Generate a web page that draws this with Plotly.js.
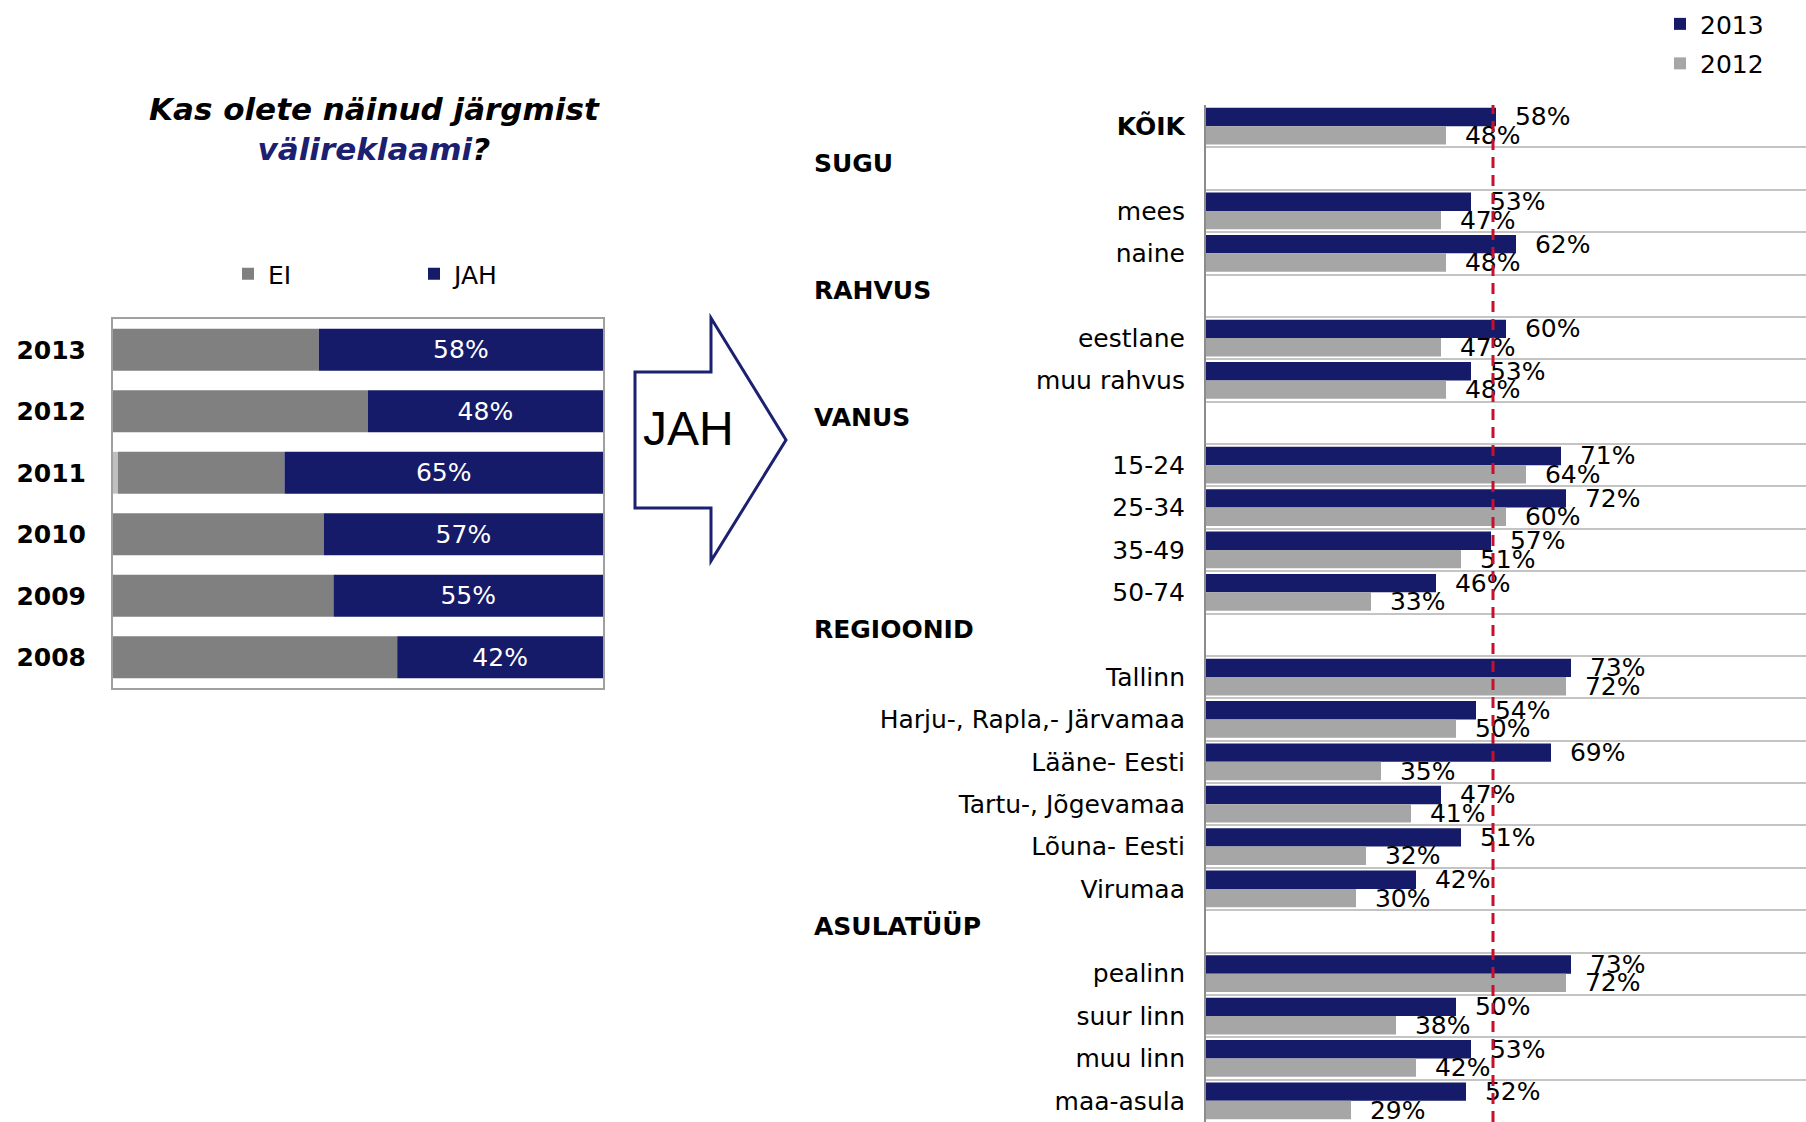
<!DOCTYPE html>
<html><head><meta charset="utf-8">
<script src="https://cdn.plot.ly/plotly-3.0.1.min.js"></script>
<style>html,body{margin:0;padding:0;background:#fff;}#chart{width:1806px;height:1122px;}</style>
</head><body><div id="chart"></div>
<script>
const W = 1806, H = 1122;

// ---- left chart data ----
const years = ['2013', '2012', '2011', '2010', '2009', '2008'];
const jahValues = [58, 48, 65, 57, 55, 42];
const eiValues = [42, 52, 34, 43, 45, 58];
const muuValues = [0, 0, 1, 0, 0, 0];

// ---- right chart data ----
const groups = ['KÕIK', 'SUGU', 'mees', 'naine', 'RAHVUS', 'eestlane', 'muu rahvus', 'VANUS',
  '15-24', '25-34', '35-49', '50-74', 'REGIOONID', 'Tallinn', 'Harju-, Rapla,- Järvamaa',
  'Lääne- Eesti', 'Tartu-, Jõgevamaa', 'Lõuna- Eesti', 'Virumaa', 'ASULATÜÜP',
  'pealinn', 'suur linn', 'muu linn', 'maa-asula'];
const values2013 = [58, null, 53, 62, null, 60, 53, null, 71, 72, 57, 46, null, 73, 54, 69, 47, 51, 42, null, 73, 50, 53, 52];
const values2012 = [48, null, 47, 48, null, 47, 48, null, 64, 60, 51, 33, null, 72, 50, 35, 41, 32, 30, null, 72, 38, 42, 29];
const headers = ['SUGU', 'RAHVUS', 'VANUS', 'REGIOONID', 'ASULATÜÜP'];
const boldGroups = ['KÕIK'];
const averageLine = 57.4;

const NAVY = '#151b69';
const GRAY = '#a6a6a6';
const DARKGRAY = '#808080';
const FONT = 'DejaVu Sans, Verdana, sans-serif';

const px = x => x / W;
const py = y => 1 - y / H;

const eiBase = muuValues.slice();
const jahBase = muuValues.map((m, i) => m + eiValues[i]);

const traces = [
  {type: 'bar', orientation: 'h', name: 'muu', x: muuValues, y: years, base: 0, width: 0.68,
   marker: {color: '#c0c0c0', line: {width: 0}}, showlegend: false, xaxis: 'x', yaxis: 'y', legend: 'legend'},
  {type: 'bar', orientation: 'h', name: 'EI', x: eiValues, y: years, base: eiBase, width: 0.68,
   marker: {color: DARKGRAY, line: {width: 0}}, xaxis: 'x', yaxis: 'y', legend: 'legend'},
  {type: 'bar', orientation: 'h', name: 'JAH', x: jahValues, y: years, base: jahBase, width: 0.68,
   marker: {color: NAVY, line: {width: 0}}, xaxis: 'x', yaxis: 'y', legend: 'legend',
   texttemplate: '%{x}%', textposition: 'inside', insidetextanchor: 'middle', constraintext: 'none',
   textfont: {color: '#ffffff', size: 25, family: FONT}},
  {type: 'bar', orientation: 'h', name: '2013', x: values2013, y: groups, offset: -0.435, width: 0.435,
   marker: {color: NAVY, line: {width: 0}}, xaxis: 'x2', yaxis: 'y2', legend: 'legend2', legendgroup: 'a',
   texttemplate: '\u00a0\u00a0%{x}%', textposition: 'outside', constraintext: 'none', cliponaxis: false,
   textfont: {color: '#000000', size: 25, family: FONT}},
  {type: 'bar', orientation: 'h', name: '2012', x: values2012, y: groups, offset: 0, width: 0.435,
   marker: {color: GRAY, line: {width: 0}}, xaxis: 'x2', yaxis: 'y2', legend: 'legend2', legendgroup: 'b',
   texttemplate: '\u00a0\u00a0%{x}%', textposition: 'outside', constraintext: 'none', cliponaxis: false,
   textfont: {color: '#000000', size: 25, family: FONT}}
];

const annotations = [
  {xref: 'paper', yref: 'paper', x: px(374), y: py(129), xanchor: 'center', yanchor: 'middle', showarrow: false,
   text: '<b><i>Kas olete näinud järgmist<br><span style="color:#1b2070">välireklaami</span>?</i></b>',
   font: {size: 31, family: FONT, color: '#000'}},
  {xref: 'paper', yref: 'paper', x: px(641), y: py(428), xanchor: 'left', yanchor: 'middle', showarrow: false,
   text: 'JAH', font: {size: 48, family: 'Liberation Sans, Arial, sans-serif', color: '#000'}}
];
headers.forEach(h => annotations.push({
  xref: 'paper', yref: 'y2', x: px(812), y: h, xanchor: 'left', yanchor: 'middle', showarrow: false,
  text: '<b>' + h + '</b>', font: {size: 25, family: FONT, color: '#000'}, yshift: 5
}));

const arrowPts = [[635, 372], [711, 372], [711, 318], [786, 440], [711, 561], [711, 508], [635, 508]];
const arrowPath = 'M' + arrowPts.map(p => px(p[0]) + ',' + py(p[1])).join(' L') + ' Z';

const layout = {
  width: W, height: H, autosize: false,
  margin: {l: 0, r: 0, t: 0, b: 0, pad: 0},
  paper_bgcolor: '#fff', plot_bgcolor: 'rgba(0,0,0,0)',
  font: {family: FONT, size: 25, color: '#000'},
  barmode: 'overlay', bargap: 0.32,
  hovermode: false,
  xaxis: {domain: [px(113), px(603)], range: [0, 100], showline: true, mirror: true, linecolor: '#a0a0a0', linewidth: 2,
          showticklabels: false, showgrid: false, zeroline: false, ticks: '', fixedrange: true},
  yaxis: {domain: [py(688), py(319)], type: 'category', autorange: 'reversed', showline: true, mirror: true,
          linecolor: '#a0a0a0', linewidth: 2, showgrid: false, ticks: '', ticklabelstandoff: 20,
          tickfont: {size: 25, family: FONT, weight: 'bold', color: '#000'}, fixedrange: true},
  xaxis2: {anchor: 'y2', domain: [px(1206), 1], range: [0, 120], showline: false, showticklabels: false,
           showgrid: false, zeroline: false, ticks: '', fixedrange: true},
  yaxis2: {anchor: 'x2', domain: [0, py(105)], type: 'category', autorange: 'reversed', tickson: 'boundaries',
           showgrid: true, gridcolor: '#c4c4c4', gridwidth: 2, showline: true, linecolor: '#8c8c8c', linewidth: 2,
           ticks: '', ticklabelstandoff: 14, tickvals: groups,
           ticktext: groups.map(g => headers.includes(g) ? '' : (boldGroups.includes(g) ? '<b>' + g + '</b>' : g)),
           tickfont: {size: 25, family: FONT, color: '#000'}, fixedrange: true},
  legend: {orientation: 'h', x: px(228), y: py(274), xanchor: 'left', yanchor: 'middle', traceorder: 'normal',
           entrywidth: 141, entrywidthmode: 'pixels', font: {size: 25, family: FONT, color: '#000'},
           bgcolor: 'rgba(0,0,0,0)'},
  legend2: {orientation: 'v', x: px(1660), y: 0.999, xanchor: 'left', yanchor: 'top', traceorder: 'grouped',
            tracegroupgap: 4, font: {size: 25, family: FONT, color: '#000'}, bgcolor: 'rgba(0,0,0,0)'},
  annotations: annotations,
  shapes: [
    {type: 'path', xref: 'paper', yref: 'paper', path: arrowPath, line: {color: '#1b2070', width: 3}, fillcolor: '#fff'},
    {type: 'line', xref: 'x2', yref: 'y2 domain', x0: averageLine, x1: averageLine, y0: 0, y1: 1,
     line: {color: '#c8102e', width: 3, dash: '11px,7px'}}
  ]
};

Plotly.newPlot('chart', traces, layout, {staticPlot: true, displayModeBar: false});
</script>
</body></html>
